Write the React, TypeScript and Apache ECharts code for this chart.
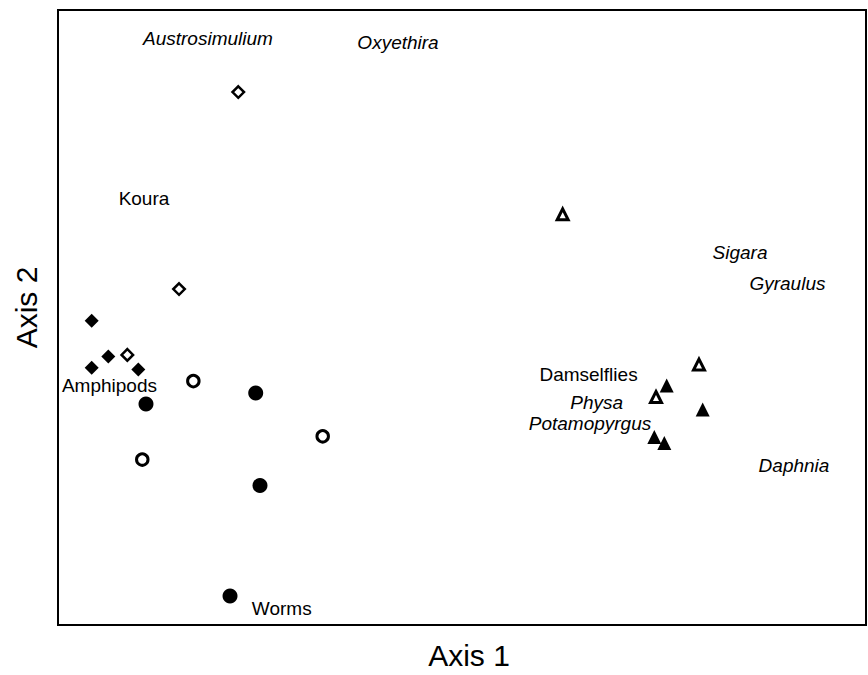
import React, { useEffect, useRef } from "react";
import * as echarts from "echarts";

// Site scores (arbitrary ordination units, 0-100 frame)
const filledDiamondX = [4.17, 6.23, 4.17, 9.94];
const filledDiamondY = [49.48, 43.65, 41.82, 41.54];
const openDiamondX = [22.31, 14.98, 8.58];
const openDiamondY = [86.66, 54.62, 43.92];
const filledCircleX = [10.89, 24.47, 25.0, 21.29];
const filledCircleY = [35.93, 37.71, 22.69, 4.7];
const openCircleX = [16.75, 32.76, 10.43];
const openCircleY = [39.66, 30.68, 26.9];
const openTriangleX = [62.46, 79.33, 74.01];
const openTriangleY = [66.77, 42.35, 37.07];
const filledTriangleX = [75.33, 79.79, 73.8, 75.04];
const filledTriangleY = [38.95, 35.06, 30.58, 29.61];

// Taxon labels
const taxonNames = [
  "Austrosimulium",
  "Oxyethira",
  "Koura",
  "Amphipods",
  "Worms",
  "Sigara",
  "Gyraulus",
  "Damselflies",
  "Physa",
  "Potamopyrgus",
  "Daphnia",
];
const taxonX = [18.56, 42.08, 10.64, 6.37, 27.69, 84.41, 90.28, 65.66, 66.67, 65.84, 91.09];
const taxonY = [95.38, 94.68, 69.37, 38.98, 2.76, 60.62, 55.59, 40.76, 36.14, 32.74, 25.93];
const taxonItalic = [true, true, false, false, false, true, true, false, true, true, true];

const axisXName = "Axis 1";
const axisYName = "Axis 2";

const FONT = "'Liberation Sans', Arial, Helvetica, sans-serif";

function pts(xs: number[], ys: number[]) {
  return xs.map((x, i) => [x, ys[i]]);
}

export default function App() {
  const ref = useRef<HTMLDivElement>(null);
  useEffect(() => {
    if (!ref.current) return;
    const chart = echarts.init(ref.current, undefined, { renderer: "svg" });
    const open = { color: "#ffffff", borderColor: "#000000", borderWidth: 3, opacity: 1 };
    const filled = { color: "#000000", opacity: 1 };
    chart.setOption({
      animation: false,
      backgroundColor: "#ffffff",
      grid: {
        left: 58,
        top: 10,
        right: 2,
        bottom: 42,
        show: true,
        borderColor: "#000000",
        borderWidth: 2,
        backgroundColor: "transparent",
      },
      xAxis: {
        type: "value",
        min: 0,
        max: 100,
        name: axisXName,
        nameLocation: "middle",
        nameGap: 15,
        nameTextStyle: { fontSize: 30, fontFamily: FONT, color: "#000", padding: [0, 0, 0, 14] },
        axisLine: { show: false },
        axisTick: { show: false },
        axisLabel: { show: false },
        splitLine: { show: false },
      },
      yAxis: {
        type: "value",
        min: 0,
        max: 100,
        name: axisYName,
        nameLocation: "middle",
        nameGap: 17,
        nameTextStyle: { fontSize: 30, fontFamily: FONT, color: "#000", padding: [0, 0, 0, 20] },
        axisLine: { show: false },
        axisTick: { show: false },
        axisLabel: { show: false },
        splitLine: { show: false },
      },
      series: [
        {
          type: "scatter",
          symbol: "diamond",
          symbolSize: 14,
          itemStyle: filled,
          data: pts(filledDiamondX, filledDiamondY),
        },
        {
          type: "scatter",
          symbol: "diamond",
          symbolSize: 11.5,
          itemStyle: { ...open, borderWidth: 2.5 },
          data: pts(openDiamondX, openDiamondY),
        },
        {
          type: "scatter",
          symbol: "circle",
          symbolSize: 15,
          itemStyle: filled,
          data: pts(filledCircleX, filledCircleY),
        },
        {
          type: "scatter",
          symbol: "circle",
          symbolSize: 11.5,
          itemStyle: open,
          data: pts(openCircleX, openCircleY),
        },
        {
          type: "scatter",
          symbol: "triangle",
          symbolSize: 11,
          itemStyle: open,
          data: pts(openTriangleX, openTriangleY),
        },
        {
          type: "scatter",
          symbol: "triangle",
          symbolSize: 14,
          itemStyle: filled,
          data: pts(filledTriangleX, filledTriangleY),
        },
        {
          type: "scatter",
          symbolSize: 0,
          silent: true,
          itemStyle: { opacity: 1 },
          data: taxonNames.map((n, i) => ({
            name: n,
            value: [taxonX[i], taxonY[i]],
            label: { fontStyle: taxonItalic[i] ? "italic" : "normal" },
          })),
          label: {
            show: true,
            position: "inside",
            formatter: "{b}",
            fontSize: 19,
            lineHeight: 16,
            fontFamily: FONT,
            color: "#000000",
            opacity: 1,
            align: "center",
            verticalAlign: "middle",
          },
        },
      ],
    });
    return () => chart.dispose();
  }, []);
  return (
    <div
      ref={ref}
      style={{ position: "absolute", left: 0, top: 0, width: 868, height: 675 }}
    />
  );
}
